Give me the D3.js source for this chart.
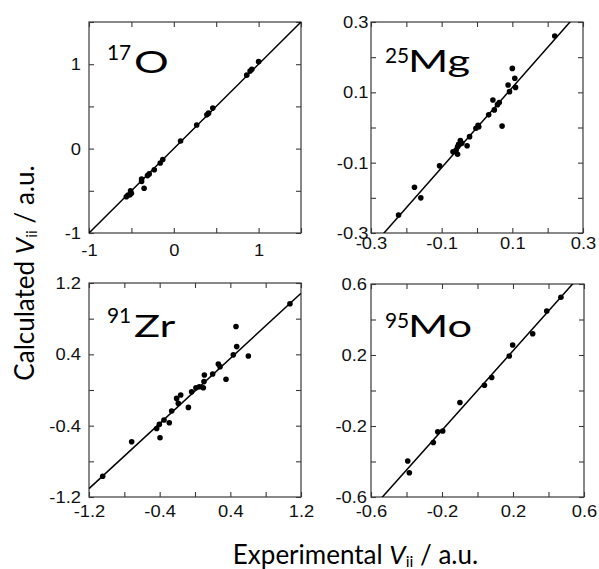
<!DOCTYPE html>
<html>
<head>
<meta charset="utf-8">
<script src="https://cdn.jsdelivr.net/npm/d3@7"></script>
<style>
  body { margin: 0; background: #fff; }
  svg { display: block; }
</style>
</head>
<body>
<svg id="chart" width="599" height="569"></svg>
<script>
// Experimental vs. calculated EFG tensor components V_ii (a.u.)

// 17O
const o17Exp  = [1.00, 0.92, 0.90, 0.86, 0.46, 0.41, 0.39, 0.27, 0.08, -0.13, -0.16, -0.23, -0.29, -0.31, -0.38, -0.38, -0.35, -0.51, -0.50, -0.52, -0.54, -0.56];
const o17Calc = [1.03, 0.94, 0.92, 0.87, 0.48, 0.42, 0.40, 0.28, 0.09, -0.13, -0.17, -0.25, -0.30, -0.32, -0.36, -0.39, -0.47, -0.50, -0.53, -0.55, -0.55, -0.57];

// 25Mg
const mg25Exp  = [0.220, 0.100, 0.107, 0.109, 0.092, 0.088, 0.071, 0.063, 0.045, 0.049, 0.058, 0.033, 0.005, -0.003, 0.003, -0.021, -0.028, -0.043, -0.047, -0.055, -0.059, -0.055, -0.068, -0.052, -0.106, -0.177, -0.159, -0.222];
const mg25Calc = [0.260, 0.168, 0.140, 0.114, 0.102, 0.121, 0.004, 0.071, 0.078, 0.050, 0.065, 0.036, 0.002, -0.002, 0.006, -0.026, -0.052, -0.045, -0.037, -0.055, -0.064, -0.076, -0.069, -0.048, -0.109, -0.170, -0.200, -0.249];

// 91Zr
const zr91Exp  = [1.075, -1.045, -0.717, 0.464, 0.472, 0.434, 0.604, 0.264, 0.283, 0.200, 0.106, 0.102, 0.351, 0.094, 0.049, 0.011, -0.038, -0.075, -0.162, -0.208, -0.189, -0.264, -0.291, -0.351, -0.404, -0.434, -0.396];
const zr91Calc = [0.967, -0.967, -0.581, 0.712, 0.487, 0.394, 0.382, 0.292, 0.262, 0.180, 0.169, 0.094, 0.120, 0.026, 0.037, 0.026, -0.019, -0.195, -0.056, -0.094, -0.150, -0.236, -0.367, -0.337, -0.386, -0.431, -0.536];

// 95Mo
const mo95Exp  = [0.470, 0.390, 0.311, 0.198, 0.179, 0.080, 0.039, -0.099, -0.196, -0.224, -0.249, -0.393, -0.384];
const mo95Calc = [0.525, 0.448, 0.320, 0.256, 0.194, 0.073, 0.030, -0.068, -0.228, -0.233, -0.293, -0.397, -0.463];

// Nucleus labels
const massNumbers = ["17", "25", "91", "95"];
const elementSymbols = ["O", "Mg", "Zr", "Mo"];

// Axis ranges (same on x and y) and ticks
const axisMin = [-1, -0.3, -1.2, -0.6];
const axisMax = [1.5, 0.3, 1.2, 0.6];
const o17TickMarks  = [-1, -0.5, 0, 0.5, 1, 1.5];
const mg25TickMarks = [-0.3, -0.2, -0.1, 0, 0.1, 0.2, 0.3];
const zr91TickMarks = [-1.2, -0.8, -0.4, 0, 0.4, 0.8, 1.2];
const mo95TickMarks = [-0.6, -0.4, -0.2, 0, 0.2, 0.4, 0.6];
const o17TickLabels  = [-1, 0, 1];
const mg25TickLabels = [-0.3, -0.1, 0.1, 0.3];
const zr91TickLabels = [-1.2, -0.4, 0.4, 1.2];
const mo95TickLabels = [-0.6, -0.2, 0.2, 0.6];

// Linear fit (calc = slope * exp + intercept)
const fitSlope     = [1.0, 1.14, 0.913, 1.12];
const fitIntercept = [0, 0, -0.01, 0];

const expData  = [o17Exp, mg25Exp, zr91Exp, mo95Exp];
const calcData = [o17Calc, mg25Calc, zr91Calc, mo95Calc];
const tickMarks  = [o17TickMarks, mg25TickMarks, zr91TickMarks, mo95TickMarks];
const tickLabels = [o17TickLabels, mg25TickLabels, zr91TickLabels, mo95TickLabels];

// Panel frames and label offsets
const frames = [
  { x0: 89,  x1: 301, y0: 22,  y1: 233, xPad: 10.9, yPad: 8,   sup: [107, 60],  main: [133, 73] },
  { x0: 371, x1: 583, y0: 22,  y1: 233, xPad: 4.2,  yPad: 2.5, sup: [385, 63],  main: [407, 72] },
  { x0: 89,  x1: 301, y0: 283, y1: 497, xPad: 7.9,  yPad: 8,   sup: [107, 323], main: [133, 337] },
  { x0: 371, x1: 584, y0: 284, y1: 497, xPad: 7.9,  yPad: 4,   sup: [385, 328], main: [407, 337] }
];

const svg = d3.select("#chart");
const tickFont = "'Liberation Sans', Arial, sans-serif";
const labelFont = "Lato, 'Open Sans', sans-serif";
const tickStretch = 1.08;
const frameColor = "#3a3a3a";

frames.forEach((f, i) => {
  const x = d3.scaleLinear().domain([axisMin[i], axisMax[i]]).range([f.x0, f.x1]);
  const y = d3.scaleLinear().domain([axisMin[i], axisMax[i]]).range([f.y1, f.y0]);
  const g = svg.append("g");

  const clipId = "clip" + i;
  svg.append("clipPath").attr("id", clipId)
    .append("rect")
    .attr("x", f.x0).attr("y", f.y0)
    .attr("width", f.x1 - f.x0).attr("height", f.y1 - f.y0);

  // inward tick marks on all four sides
  const markAxes = [
    [d3.axisBottom(x), `translate(0,${f.y1})`],
    [d3.axisTop(x), `translate(0,${f.y0})`],
    [d3.axisLeft(y), `translate(${f.x0},0)`],
    [d3.axisRight(y), `translate(${f.x1},0)`]
  ];
  markAxes.forEach(([ax, tr]) => {
    const a = g.append("g").attr("transform", tr)
      .call(ax.tickValues(tickMarks[i]).tickSize(-5).tickFormat(""));
    a.select(".domain").remove();
    a.selectAll("line").attr("stroke", frameColor).attr("stroke-width", 1.1);
  });

  // tick labels
  const xl = g.append("g").attr("transform", `translate(0,${f.y1})`)
    .call(d3.axisBottom(x).tickValues(tickLabels[i]).tickSize(0).tickPadding(f.xPad).tickFormat(d => String(d)));
  const yl = g.append("g").attr("transform", `translate(${f.x0},0)`)
    .call(d3.axisLeft(y).tickValues(tickLabels[i]).tickSize(0).tickPadding(f.yPad).tickFormat(d => String(d)));
  [xl, yl].forEach(a => {
    a.select(".domain").remove();
    a.selectAll("text")
      .attr("font-family", tickFont).attr("font-size", 17).attr("fill", "#111");
  });
  xl.selectAll("text").attr("transform", `scale(${tickStretch},1)`);
  yl.selectAll("text").attr("x", -f.yPad / tickStretch).attr("transform", `scale(${tickStretch},1)`);

  // frame
  g.append("rect")
    .attr("x", f.x0).attr("y", f.y0)
    .attr("width", f.x1 - f.x0).attr("height", f.y1 - f.y0)
    .attr("fill", "none").attr("stroke", frameColor).attr("stroke-width", 1.2);

  // fit line
  const xs = [axisMin[i], axisMax[i]];
  g.append("line")
    .attr("clip-path", `url(#${clipId})`)
    .attr("x1", x(xs[0])).attr("y1", y(fitSlope[i] * xs[0] + fitIntercept[i]))
    .attr("x2", x(xs[1])).attr("y2", y(fitSlope[i] * xs[1] + fitIntercept[i]))
    .attr("stroke", "#000").attr("stroke-width", 1.5);

  // data points
  g.selectAll("circle.pt")
    .data(expData[i].map((e, k) => [e, calcData[i][k]]))
    .join("circle").attr("class", "pt")
    .attr("cx", d => x(d[0])).attr("cy", d => y(d[1]))
    .attr("r", 2.8).attr("fill", "#000");

  // nucleus label
  g.append("text")
    .attr("transform", `translate(${f.sup[0]},${f.sup[1]}) scale(0.95,1)`)
    .attr("font-family", labelFont).attr("font-size", 22).attr("fill", "#000")
    .text(massNumbers[i]);
  g.append("text")
    .attr("transform", `translate(${f.main[0] + 1},${f.main[1]}) scale(1.4,1)`)
    .attr("font-family", labelFont).attr("font-size", 31).attr("fill", "#000")
    .text(elementSymbols[i]);
});

// axis titles
const xTitle = svg.append("text")
  .attr("x", 355.5).attr("y", 564)
  .attr("text-anchor", "middle")
  .attr("font-family", labelFont).attr("font-size", 26).attr("fill", "#000");
xTitle.append("tspan").text("Experimental ");
xTitle.append("tspan").attr("font-style", "italic").text("V");
xTitle.append("tspan").attr("font-size", 16).attr("dy", 3).text("ii");
xTitle.append("tspan").attr("dy", -3).text(" / a.u.");

const yTitle = svg.append("text")
  .attr("transform", "translate(34,273) rotate(-90)")
  .attr("text-anchor", "middle")
  .attr("font-family", labelFont).attr("font-size", 26).attr("fill", "#000");
yTitle.append("tspan").text("Calculated ");
yTitle.append("tspan").attr("font-style", "italic").text("V");
yTitle.append("tspan").attr("font-size", 16).attr("dy", 3).text("ii");
yTitle.append("tspan").attr("dy", -3).text(" / a.u.");
</script>
</body>
</html>
